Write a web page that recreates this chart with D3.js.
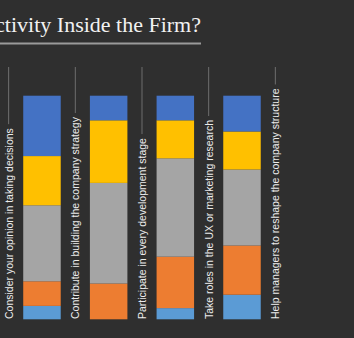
<!DOCTYPE html>
<html>
<head>
<meta charset="utf-8">
<script src="https://cdn.jsdelivr.net/npm/d3@7/dist/d3.min.js"></script>
<style>
  html, body { margin: 0; padding: 0; background: #2f2f2f; }
  svg { display: block; }
</style>
</head>
<body>
<script>
// ---- data ----
const titleText = "ctivity Inside the Firm?";
const categories = [
  "Consider your opinion in taking decisions",
  "Contribute in building the company strategy",
  "Participate in every development stage",
  "Take roles in the UX or marketing research",
  "Help managers to reshape the company structure"
];
// series stacked from bottom to top (percent); first bar lies outside the crop
const seriesNames = ["s1", "s2", "s3", "s4", "s5"];
const s1 = [null, 6, 0, 5, 11];   // light blue (bottom)
const s2 = [null, 11, 16, 23, 22]; // orange
const s3 = [null, 34, 45, 44, 34]; // gray
const s4 = [null, 22, 28, 17, 17]; // yellow
const s5 = [null, 27, 11, 11, 16]; // blue (top)
const colors = ["#5b9bd5", "#ed7d31", "#a5a5a5", "#ffc000", "#4472c4"];

const W = 354, H = 338;
const svg = d3.select("body").append("svg").attr("width", W).attr("height", H);
svg.append("rect").attr("width", W).attr("height", H).attr("fill", "#2f2f2f");

// title
const title = svg.append("text")
  .attr("x", 201).attr("y", 32)
  .attr("text-anchor", "end")
  .attr("fill", "#f2f2f2")
  .attr("font-family", "'Liberation Serif', 'DejaVu Serif', serif")
  .attr("font-size", 22)
  .text(titleText);
svg.append("line").attr("x1", 0).attr("x2", 201).attr("y1", 43.5).attr("y2", 43.5)
  .attr("stroke", "#9a9a9a").attr("stroke-width", 2);

// scales
const x = d3.scalePoint().domain(categories).range([-24.7, 242]);
const step = x.step();
const barW = 37.5;
const y = d3.scaleLinear().domain([0, 100]).range([319.3, 95.7]);

const rows = categories.map((c, i) => ({cat: c, s1: s1[i], s2: s2[i], s3: s3[i], s4: s4[i], s5: s5[i]}));
const stack = d3.stack().keys(seriesNames);
const stacked = stack(rows.filter(r => r.s1 !== null));

svg.append("g").selectAll("g").data(stacked).join("g")
  .attr("fill", (d, i) => colors[i])
  .selectAll("rect").data(d => d).join("rect")
  .attr("x", d => x(d.data.cat) - barW / 2)
  .attr("width", barW)
  .attr("y", d => y(d[1]))
  .attr("height", d => y(d[0]) - y(d[1]));

// labels with leader lines
const labelG = svg.append("g");
categories.forEach(c => {
  const lx = x(c) + step / 2;
  const t = labelG.append("text")
    .attr("transform", `translate(${lx + 4},319) rotate(-90)`)
    .attr("fill", "#ececec")
    .attr("font-family", "'Liberation Sans', Arial, sans-serif")
    .attr("font-size", 10.5)
    .text(c);
  const len = t.node().getComputedTextLength();
  labelG.append("line")
    .attr("x1", lx).attr("x2", lx)
    .attr("y1", 67).attr("y2", 319 - len - 4)
    .attr("stroke", "#6e6e6e").attr("stroke-width", 1);
});
</script>
</body>
</html>
